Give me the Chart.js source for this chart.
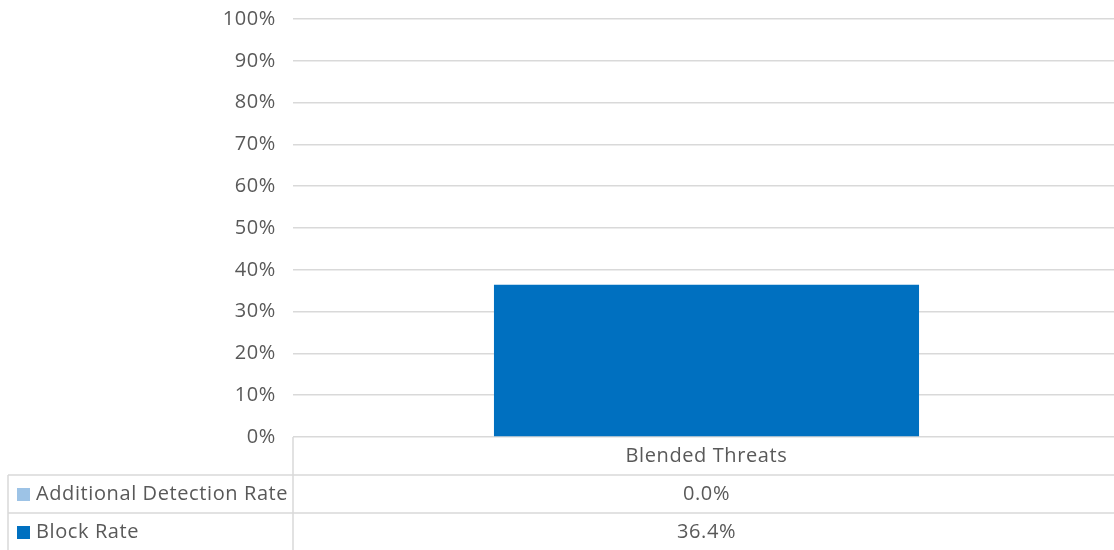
<!DOCTYPE html>
<html>
<head>
<meta charset="utf-8">
<script src="https://cdn.jsdelivr.net/npm/chart.js@4"></script>
<style>
    html, body { margin: 0; padding: 0; background: #ffffff; overflow: hidden; }
    #wrap { width: 1120px; height: 550px; position: relative; }
</style>
</head>
<body>
<div id="wrap"><canvas id="chart"></canvas></div>
<script>
// --- DATOS ---
const categories = ['Blended Threats'];
const blockRate = [36.4];
const additionalDetectionRate = [0.0];
const yTicks = [0, 10, 20, 30, 40, 50, 60, 70, 80, 90, 100];

const FONT = '"Open Sans", sans-serif';
const FONT_SIZE = 20;
const TEXT_COLOR = '#595959';
const LINE_COLOR = '#d9d9d9';

// Espaciado de letras parecido al de Calibri en la referencia
const letterSpacingPlugin = {
    id: 'letterSpacing',
    beforeDraw(chart) {
        chart.ctx.letterSpacing = '0.6px';
    }
};

// Tabla de datos bajo el gráfico (como en Excel)
const dataTablePlugin = {
    id: 'dataTable',
    afterDraw(chart) {
        const ctx = chart.ctx;
        const area = chart.chartArea;
        const xScale = chart.scales.x;
        const rowH = 38;
        const tableLeft = 8;
        const row1 = area.bottom + rowH;      // linea bajo la cabecera
        const row2 = row1 + rowH;
        const bottom = chart.height;

        ctx.save();
        ctx.strokeStyle = LINE_COLOR;
        ctx.lineWidth = 1.5;
        ctx.beginPath();
        // vertical en el borde del eje
        ctx.moveTo(area.left, area.bottom);
        ctx.lineTo(area.left, bottom);
        // vertical izquierda
        ctx.moveTo(tableLeft, row1);
        ctx.lineTo(tableLeft, bottom);
        // horizontales
        ctx.moveTo(tableLeft, row1);
        ctx.lineTo(chart.width, row1);
        ctx.moveTo(tableLeft, row2);
        ctx.lineTo(chart.width, row2);
        ctx.stroke();

        ctx.font = FONT_SIZE + 'px ' + FONT;
        ctx.letterSpacing = '0.6px';
        ctx.fillStyle = TEXT_COLOR;
        ctx.textBaseline = 'middle';

        // cabecera de categorias
        ctx.textAlign = 'center';
        categories.forEach((c, i) => {
            const x = xScale.getPixelForValue(i);
            ctx.fillText(c, x, area.bottom + rowH / 2);
            ctx.fillText(additionalDetectionRate[i].toFixed(1) + '%', x, row1 + rowH / 2);
            ctx.fillText(blockRate[i].toFixed(1) + '%', x, row2 + rowH / 2);
        });

        // leyenda dentro de la tabla
        const rows = [
            { label: 'Additional Detection Rate', color: '#9dc3e6', y: row1 + rowH / 2 },
            { label: 'Block Rate', color: '#0070c0', y: row2 + rowH / 2 }
        ];
        ctx.textAlign = 'left';
        rows.forEach(r => {
            ctx.fillStyle = r.color;
            ctx.fillRect(17, r.y - 6, 13, 13);
            ctx.fillStyle = TEXT_COLOR;
            ctx.fillText(r.label, 36, r.y);
        });
        ctx.restore();
    }
};

new Chart(document.getElementById('chart'), {
    type: 'bar',
    data: {
        labels: categories,
        datasets: [
            {
                label: 'Block Rate',
                data: blockRate,
                backgroundColor: '#0070c0',
                barPercentage: 0.514,
                categoryPercentage: 1
            },
            {
                label: 'Additional Detection Rate',
                data: additionalDetectionRate,
                backgroundColor: '#9dc3e6',
                barPercentage: 0.514,
                categoryPercentage: 1
            }
        ]
    },
    options: {
        responsive: true,
        maintainAspectRatio: false,
        animation: false,
        layout: { padding: { top: 19, bottom: 113, right: 0, left: 0 } },
        plugins: {
            legend: { display: false },
            tooltip: { enabled: false }
        },
        scales: {
            x: {
                stacked: true,
                display: false
            },
            y: {
                stacked: true,
                min: 0,
                max: 100,
                afterFit(scale) {
                    scale.width = 293;
                    scale.paddingTop = 0;
                    scale.paddingBottom = 0;
                },
                afterBuildTicks(scale) { scale.ticks = yTicks.map(v => ({ value: v })); },
                border: { display: false },
                grid: { color: LINE_COLOR, lineWidth: 1.5, drawTicks: false },
                ticks: {
                    color: TEXT_COLOR,
                    font: { family: FONT, size: FONT_SIZE },
                    padding: 17,
                    callback: v => v + '%'
                }
            }
        }
    },
    plugins: [letterSpacingPlugin, dataTablePlugin]
});
</script>
</body>
</html>
